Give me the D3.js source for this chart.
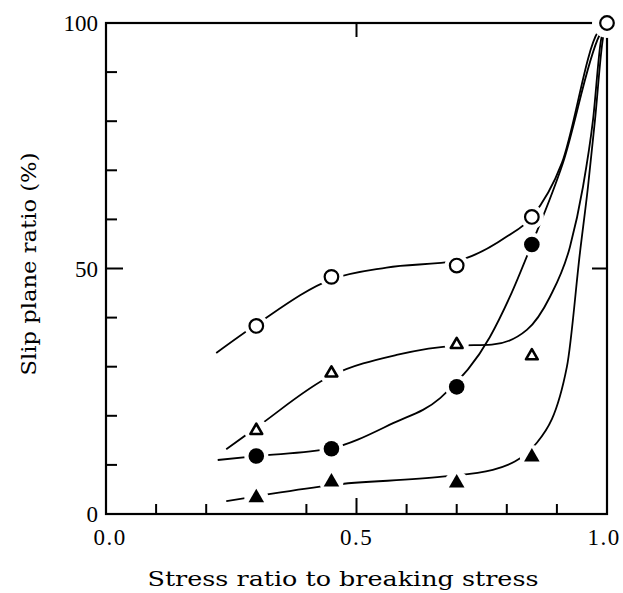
<!DOCTYPE html>
<html>
<head>
<meta charset="utf-8">
<script src="https://cdn.jsdelivr.net/npm/d3@7/dist/d3.min.js"></script>
<style>
body { margin: 0; background: #fff; }
</style>
</head>
<body>
<div id="root"></div>
<script>
// measured points (x = stress ratio, y = slip plane ratio %)
const stressX = [0.3, 0.45, 0.7, 0.85];
const openCircle = [38.3, 48.3, 50.6, 60.5];
const filledCircle = [11.8, 13.3, 25.9, 54.9];
const openTriangle = [17.0, 28.7, 34.5, 32.2];
const filledTriangle = [3.3, 6.5, 6.3, 11.6];
const breakPoint = [1.0, 100];

// hand drawn fitting curves
const curveOpenCircle = [[0.22, 32.8], [0.3, 38.6], [0.45, 47.8], [0.56, 50.2], [0.7, 51.6], [0.8, 56.5], [0.85, 60.5], [0.91, 71.5], [0.982, 98.2], [1.0, 100]];
const curveFilledCircle = [[0.223, 11.0], [0.3, 11.8], [0.45, 13.4], [0.573, 18.5], [0.667, 23.6], [0.766, 36], [0.806, 44.2], [0.85, 55], [0.912, 71.5], [0.985, 97.5], [1.0, 100]];
const curveOpenTriangle = [[0.24, 13.2], [0.3, 17.6], [0.45, 28.2], [0.58, 32.4], [0.7, 34.3], [0.77, 34.5], [0.84, 37.5], [0.886, 44.2], [0.926, 54.4], [0.952, 66.6], [0.972, 80.2], [0.988, 96.5], [1.0, 100]];
const curveFilledTriangle = [[0.24, 2.6], [0.317, 3.9], [0.45, 5.9], [0.671, 7.6], [0.772, 9.0], [0.86, 14.5], [0.92, 30], [0.946, 53.2], [0.962, 66.6], [0.976, 80.2], [0.992, 96.9], [1.0, 100]];

const yTicks = [10, 20, 30, 40, 50, 60, 70, 80, 90];
const xTicks = [0.1, 0.2, 0.4, 0.5, 0.6, 0.7, 0.8, 0.9];
const yLabels = [0, 50, 100];
const xLabels = ['0.0', '0.5', '1.0'];
const xLabelShift = [4, 0, -3];

const width = 623;
const height = 593;

const x = d3.scaleLinear().domain([0, 1]).range([106, 607]);
const y = d3.scaleLinear().domain([0, 100]).range([514, 23]);

const svg = d3.select('#root')
    .append('svg')
    .attr('width', width)
    .attr('height', height);

// frame
svg.append('rect')
    .attr('x', x(0))
    .attr('y', y(100))
    .attr('width', x(1) - x(0))
    .attr('height', y(0) - y(100))
    .attr('fill', 'none')
    .attr('stroke', '#000')
    .attr('stroke-width', 2.2);

// ticks, pointing inward
svg.append('g')
    .selectAll('line')
    .data(yTicks)
    .join('line')
    .attr('x1', x(0))
    .attr('x2', d => x(0) + (d === 50 ? 17 : 11))
    .attr('y1', d => y(d))
    .attr('y2', d => y(d))
    .attr('stroke', '#000')
    .attr('stroke-width', 2);

svg.append('g')
    .selectAll('line')
    .data(xTicks)
    .join('line')
    .attr('x1', d => x(d))
    .attr('x2', d => x(d))
    .attr('y1', y(0))
    .attr('y2', d => y(0) - (d === 0.5 ? 16 : 10))
    .attr('stroke', '#000')
    .attr('stroke-width', 2);

svg.append('line')
    .attr('x1', x(0.5)).attr('x2', x(0.5))
    .attr('y1', y(100)).attr('y2', y(100) + 14)
    .attr('stroke', '#000').attr('stroke-width', 2);

svg.append('line')
    .attr('x1', x(1)).attr('x2', x(1) - 15)
    .attr('y1', y(50)).attr('y2', y(50))
    .attr('stroke', '#000').attr('stroke-width', 2);

// tick labels
svg.append('g')
    .selectAll('text')
    .data(yLabels)
    .join('text')
    .attr('x', 98)
    .attr('y', d => y(d) + 8)
    .attr('text-anchor', 'end')
    .style('font-family', '"Liberation Serif", serif')
    .style('font-size', '23px')
    .text(d => d);

svg.append('g')
    .selectAll('text')
    .data(xLabels)
    .join('text')
    .attr('x', (d, i) => x(+d) + xLabelShift[i])
    .attr('y', 545)
    .attr('text-anchor', 'middle')
    .style('font-family', '"Liberation Serif", serif')
    .style('font-size', '23px')
    .style('letter-spacing', '1.5px')
    .text(d => d);

// axis titles
svg.append('text')
    .attr('x', 343)
    .attr('y', 586)
    .attr('text-anchor', 'middle')
    .style('font-family', '"DejaVu Serif", serif')
    .style('font-size', '20px')
    .attr('textLength', 391)
    .attr('lengthAdjust', 'spacingAndGlyphs')
    .text('Stress ratio to breaking stress');

svg.append('text')
    .attr('transform', 'translate(36,264) rotate(-90)')
    .attr('text-anchor', 'middle')
    .style('font-family', '"DejaVu Serif", serif')
    .style('font-size', '20px')
    .attr('textLength', 223)
    .attr('lengthAdjust', 'spacingAndGlyphs')
    .text('Slip plane ratio (%)');

// curves
const line = d3.line()
    .x(d => x(d[0]))
    .y(d => y(d[1]))
    .curve(d3.curveMonotoneX);

svg.append('g')
    .selectAll('path')
    .data([curveOpenCircle, curveFilledCircle, curveOpenTriangle, curveFilledTriangle])
    .join('path')
    .attr('d', line)
    .attr('fill', 'none')
    .attr('stroke', '#000')
    .attr('stroke-width', 1.8);

// markers
const points = [
    ...stressX.map((v, i) => ({ x: v, y: openCircle[i], kind: 'oc' })),
    { x: breakPoint[0], y: breakPoint[1], kind: 'oc', halo: 15 },
    ...stressX.map((v, i) => ({ x: v, y: filledCircle[i], kind: 'fc' })),
    ...stressX.map((v, i) => ({ x: v, y: openTriangle[i], kind: 'ot' })),
    ...stressX.map((v, i) => ({ x: v, y: filledTriangle[i], kind: 'ft' })),
];

// white gaps round each marker
svg.append('g')
    .selectAll('circle')
    .data(points)
    .join('circle')
    .attr('cx', d => x(d.x))
    .attr('cy', d => y(d.y))
    .attr('r', d => d.halo || 12)
    .attr('fill', '#fff');

const tri = d3.symbol().type(d3.symbolTriangle);

const marks = svg.append('g')
    .selectAll('g')
    .data(points)
    .join('g')
    .attr('transform', d => `translate(${x(d.x)},${y(d.y)})`);

marks.filter(d => d.kind === 'oc')
    .append('circle')
    .attr('r', 6.8)
    .attr('fill', '#fff')
    .attr('stroke', '#000')
    .attr('stroke-width', 2.2);

marks.filter(d => d.kind === 'fc')
    .append('circle')
    .attr('r', 7.8)
    .attr('fill', '#000');

marks.filter(d => d.kind === 'ot')
    .append('path')
    .attr('d', tri.size(60)())
    .attr('fill', '#fff')
    .attr('stroke', '#000')
    .attr('stroke-width', 2.6)
    .attr('stroke-linejoin', 'round');

marks.filter(d => d.kind === 'ft')
    .append('path')
    .attr('d', tri.size(105)())
    .attr('fill', '#000');
</script>
</body>
</html>
